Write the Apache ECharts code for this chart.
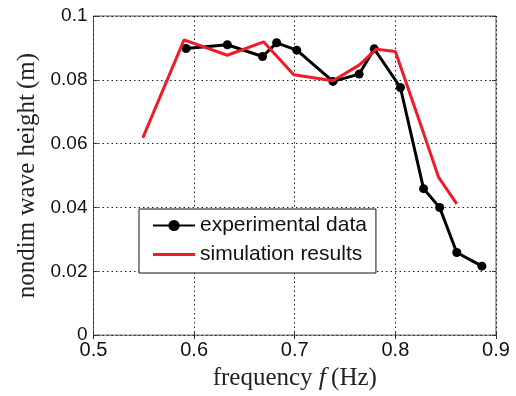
<!DOCTYPE html>
<html>
<head>
<meta charset="utf-8">
<script src="https://cdn.jsdelivr.net/npm/echarts@6/dist/echarts.min.js"></script>
<style>
  html, body { margin: 0; padding: 0; background: #fff; }
  #chart { width: 516px; height: 396px; }
</style>
</head>
<body>
<div id="chart"></div>
<script>
// Measured wave height versus forcing frequency
const expFreq   = [0.592, 0.633, 0.668, 0.682, 0.702, 0.738, 0.764, 0.779, 0.805, 0.828, 0.844, 0.861, 0.886];
const expHeight = [0.0898, 0.0910, 0.0873, 0.0916, 0.0893, 0.0795, 0.0818, 0.0897, 0.0776, 0.0459, 0.0400, 0.0259, 0.0216];

// Numerical model output
const simFreq   = [0.549, 0.590, 0.633, 0.669, 0.699, 0.738, 0.764, 0.781, 0.800, 0.828, 0.843, 0.861];
const simHeight = [0.0618, 0.0925, 0.0877, 0.0919, 0.0816, 0.0797, 0.0846, 0.0896, 0.0889, 0.0633, 0.0494, 0.0411];

const xTicks = [0.5, 0.6, 0.7, 0.8, 0.9];
const yTicks = [0, 0.02, 0.04, 0.06, 0.08, 0.1];

const pairs = (xs, ys) => xs.map((x, i) => [x, ys[i]]);

const gridDash = { color: '#222', width: 1, type: [1.5, 3] };
const sans = 'Liberation Sans, Arial, sans-serif';
const serif = 'Liberation Serif, DejaVu Serif, serif';
const tickStyle = { show: true, inside: true, length: 4, lineStyle: { color: '#333' } };

const chart = echarts.init(document.getElementById('chart'), null, { renderer: 'canvas' });
chart.setOption({
  animation: false,
  backgroundColor: '#fff',
  grid: { left: 93.5, top: 16, width: 402.5, height: 324, show: true, borderColor: '#555', borderWidth: 1 },
  xAxis: [{
    type: 'value', min: 0.5, max: 0.9, interval: 0.1,
    axisLine: { show: false },
    axisTick: tickStyle,
    axisLabel: {
      margin: 5, fontFamily: sans, fontSize: 20, color: '#111',
      formatter: v => {
        const r = +v.toFixed(2);
        return xTicks.includes(r) ? String(r) : '';
      }
    },
    splitLine: { show: true, lineStyle: gridDash },
    name: '{a|frequency }{b|f}{a|\u2009(Hz)}',
    nameLocation: 'middle', nameGap: 23,
    nameTextStyle: {
      rich: {
        a: { fontFamily: serif, fontSize: 25, color: '#222' },
        b: { fontFamily: serif, fontStyle: 'italic', fontSize: 26, color: '#222' }
      }
    }
  }, {
    type: 'value', position: 'top', min: 0.5, max: 0.9, interval: 0.1,
    axisLine: { show: false }, axisLabel: { show: false }, splitLine: { show: false },
    axisTick: tickStyle
  }],
  yAxis: [{
    type: 'value', min: 0, max: 0.1, interval: 0.02,
    axisLine: { show: false },
    axisTick: tickStyle,
    axisLabel: {
      margin: 6, fontFamily: sans, fontSize: 19, color: '#111',
      formatter: v => {
        const r = +v.toFixed(2);
        return yTicks.includes(r) ? String(r) : '';
      }
    },
    splitLine: { show: true, lineStyle: gridDash },
    name: 'nondim wave height\u2009(m)',
    nameLocation: 'middle', nameGap: 53,
    nameTextStyle: { fontFamily: serif, fontSize: 25, color: '#222' }
  }, {
    type: 'value', position: 'right', min: 0, max: 0.1, interval: 0.02,
    axisLine: { show: false }, axisLabel: { show: false }, splitLine: { show: false },
    axisTick: tickStyle
  }],
  legend: {
    left: 139, top: 209,
    orient: 'vertical',
    padding: [6, 9, 8, 13],
    itemGap: 8,
    itemWidth: 42, itemHeight: 14,
    backgroundColor: '#fff',
    borderColor: '#111', borderWidth: 1, borderRadius: 0,
    textStyle: { fontFamily: sans, fontSize: 21, color: '#111' },
    data: [
      { name: 'experimental data' },
      { name: 'simulation results', icon: 'path://M0,0 L42,0 L42,3 L0,3 Z' }
    ]
  },
  series: [{
    name: 'experimental data',
    type: 'line',
    data: pairs(expFreq, expHeight),
    symbol: 'circle', symbolSize: 9,
    lineStyle: { color: '#000', width: 3 },
    itemStyle: { color: '#000' },
    z: 2
  }, {
    name: 'simulation results',
    type: 'line',
    data: pairs(simFreq, simHeight),
    showSymbol: false,
    symbol: 'none',
    lineStyle: { color: '#ee1c25', width: 3 },
    itemStyle: { color: '#ee1c25' },
    z: 3
  }]
});
</script>
</body>
</html>
